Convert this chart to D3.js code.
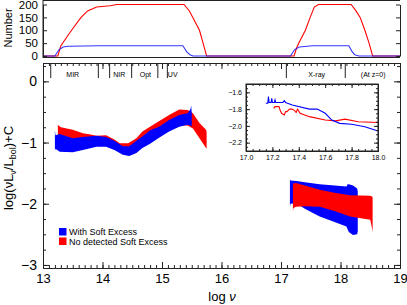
<!DOCTYPE html>
<html>
<head>
  <meta charset="utf-8">
  <style>
    body { margin: 0; background: #fff; }
    svg { font-family: "Liberation Sans", Arial, sans-serif; }
    .ax path, .ax line { stroke: #222; }
  </style>
</head>
<body>
<svg width="407" height="305"></svg>
<script src="https://d3js.org/d3.v7.min.js"></script>
<script>

  // --- top panel: number of objects at each log nu
  var redCountNu = [13.0, 13.25, 13.3, 13.48, 13.64, 13.75, 13.9, 14.13, 14.24, 15.37, 15.46, 15.54, 15.63, 15.69, 15.75,
    17.22, 17.26, 17.31, 17.41, 17.49, 17.56, 17.63, 18.18, 18.26, 18.33, 18.41, 18.48, 18.54, 19.0]
  var redCount = [0, 0, 40, 100, 150, 175, 190, 195, 200, 200, 175, 140, 100, 50, 0,
    0, 30, 55, 100, 150, 190, 200, 200, 175, 150, 100, 50, 0, 0]
  var blueCountNu = [13.0, 13.2, 13.27, 13.34, 13.42, 13.95, 15.35, 15.42, 15.47, 15.52,
    17.16, 17.23, 17.31, 17.53, 18.14, 18.2, 18.24, 18.31, 19.0]
  var blueCount = [0, 0, 25, 35, 38, 40, 40, 15, 5, 0,
    0, 25, 35, 40, 40, 15, 5, 0, 0]

  // --- main panel: SED envelopes (log nu, upper, lower)
  var blueIrNu = [13.2, 13.21, 13.28, 13.5, 13.67, 13.9, 14.06, 14.2, 14.34, 14.45, 14.57, 14.67, 14.8, 14.95, 15.12, 15.29, 15.43, 15.48, 15.49, 15.5]
  var blueIrHi = [-0.80, -0.88, -0.86, -0.93, -0.91, -0.89, -0.91, -0.97, -1.06, -1.06, -0.97, -0.90, -0.80, -0.74, -0.63, -0.55, -0.52, -0.45, -0.39, -0.52]
  var blueIrLo = [-1.14, -1.10, -1.15, -1.16, -1.12, -1.07, -1.07, -1.12, -1.20, -1.22, -1.17, -1.09, -1.02, -0.92, -0.82, -0.74, -0.71, -0.72, -0.74, -0.72]

  var redIrNu = [13.25, 13.26, 13.3, 13.5, 13.67, 13.8, 13.9, 14.06, 14.2, 14.29, 14.43, 14.57, 14.67, 14.9, 15.12, 15.29, 15.43, 15.52, 15.63, 15.74, 15.75]
  var redIrHi = [-0.70, -0.72, -0.75, -0.79, -0.85, -0.87, -0.89, -0.88, -0.95, -1.01, -1.01, -0.93, -0.82, -0.68, -0.55, -0.46, -0.47, -0.52, -0.68, -0.79, -0.83]
  var redIrLo = [-1.05, -1.02, -1.08, -1.10, -1.08, -1.04, -1.02, -1.03, -1.10, -1.15, -1.18, -1.14, -1.06, -0.93, -0.80, -0.72, -0.72, -0.77, -0.93, -1.09, -1.10]

  var blueXNu = [17.15, 17.16, 17.26, 17.4, 17.65, 17.9, 18.1, 18.12, 18.14, 18.21, 18.28, 18.29]
  var blueXHi = [-1.60, -1.62, -1.63, -1.65, -1.68, -1.70, -1.72, -1.68, -1.68, -1.70, -1.75, -1.80]
  var blueXLo = [-2.05, -2.00, -1.99, -2.08, -2.21, -2.30, -2.37, -2.42, -2.46, -2.51, -2.50, -2.45]

  var redXNu = [17.2, 17.21, 17.25, 17.4, 17.65, 17.9, 18.16, 18.5, 18.53, 18.54]
  var redXHi = [-1.67, -1.67, -1.66, -1.70, -1.77, -1.82, -1.86, -1.87, -1.88, -1.90]
  var redXLo = [-2.12, -2.07, -2.05, -2.04, -2.05, -2.12, -2.21, -2.26, -2.40, -2.46]

  // --- inset: mean X-ray SEDs
  var insetBlueNu = [17.15, 17.165, 17.17, 17.175, 17.19, 17.195, 17.2, 17.215, 17.22, 17.225, 17.28, 17.29, 17.3, 17.35, 17.48, 17.54, 17.6, 17.65, 17.71, 17.8, 17.9, 18.0]
  var insetBlue = [-1.73, -1.73, -1.65, -1.72, -1.72, -1.67, -1.72, -1.72, -1.69, -1.72, -1.72, -1.70, -1.72, -1.75, -1.80, -1.80, -1.85, -1.93, -1.97, -1.98, -2.01, -2.06]
  var insetRedNu = [17.21, 17.22, 17.25, 17.26, 17.27, 17.29, 17.3, 17.31, 17.33, 17.35, 17.37, 17.38, 17.39, 17.41, 17.48, 17.6, 17.68, 17.75, 17.85, 18.0]
  var insetRed = [-1.79, -1.77, -1.77, -1.82, -1.85, -1.87, -1.83, -1.83, -1.80, -1.80, -1.82, -1.84, -1.80, -1.85, -1.89, -1.93, -1.94, -1.92, -1.95, -1.96]

  // --- wavebands along the top of the main panel
  var bandEdges = [13.13, 13.93, 14.12, 14.49, 14.93, 15.09, 17.09, 18.08]
  var bandLabelNu = [13.5, 14.28, 14.72, 15.18, 17.6, 18.55]
  var bandLabels = ['MIR', 'NIR', 'Opt', 'UV', 'X-ray', '(At z=0)']

  var legendLabels = ['With Soft Excess', 'No detected Soft Excess']
  var legendColors = ['#0000ff', '#ff0000']

  var svg = d3.select('svg')

  function range(a, b, s) {
    var out = []
    for (var v = a; v <= b + s / 2; v += s) out.push(+v.toFixed(4))
    return out
  }

  var x = d3.scaleLinear().domain([13, 19]).range([43, 400])
  var yTop = d3.scaleLinear().domain([0, 200]).range([56, 4.5])
  var y = d3.scaleLinear().domain([-3.05, 0.3]).range([268, 63])

  function zip(a, b) {
    return a.map(function (d, i) { return [d, b[i]] })
  }

  // ---------- top panel ----------
  var topG = svg.append('g')
  var cntLine = d3.line().x(function (d) { return x(d[0]) }).y(function (d) { return yTop(d[1]) })

  topG.append('path').datum(zip(redCountNu, redCount))
    .attr('fill', 'none').attr('stroke', '#ff0000').attr('stroke-width', 1.1).attr('d', cntLine)
  topG.append('path').datum(zip(blueCountNu, blueCount))
    .attr('fill', 'none').attr('stroke', '#0000ff').attr('stroke-opacity', 0.8).attr('stroke-width', 1.1).attr('d', cntLine)

  topG.append('g').attr('class', 'ax').attr('transform', 'translate(43,0)')
    .call(d3.axisLeft(yTop).tickValues([0, 50, 100, 150, 200]).tickSizeInner(-4).tickSizeOuter(0).tickPadding(5).tickFormat(d3.format('d')))
    .attr('font-size', 11.5).attr('font-family', null)
  topG.append('g').attr('class', 'ax').attr('transform', 'translate(400,0)')
    .call(d3.axisRight(yTop).tickValues([0, 50, 100, 150, 200]).tickSizeInner(-4).tickSizeOuter(0).tickFormat(''))
  topG.append('line').attr('x1', 43).attr('x2', 400).attr('y1', 57.5).attr('y2', 57.5).attr('stroke', '#222')
  topG.append('line').attr('x1', 43).attr('x2', 400).attr('y1', 0.5).attr('y2', 0.5).attr('stroke', '#222')
  topG.append('line').attr('x1', 43).attr('x2', 43).attr('y1', 0).attr('y2', 58).attr('stroke', '#222')

  topG.append('text').attr('transform', 'translate(12,28) rotate(-90)')
    .attr('text-anchor', 'middle').attr('font-size', 11).text('Number')

  // ---------- main panel ----------
  var main = svg.append('g')
  var band = d3.area()
    .x(function (d) { return x(d[0]) })
    .y0(function (d) { return y(d[2]) })
    .y1(function (d) { return y(d[1]) })

  function env(nu, hi, lo) {
    return nu.map(function (d, i) { return [d, hi[i], lo[i]] })
  }

  main.append('path').datum(env(redIrNu, redIrHi, redIrLo)).attr('fill', '#ff0000').attr('d', band)
  main.append('path').datum(env(blueIrNu, blueIrHi, blueIrLo)).attr('fill', '#0000ff').attr('d', band)
  main.append('path').datum(env(blueXNu, blueXHi, blueXLo)).attr('fill', '#0000ff').attr('d', band)
  main.append('path').datum(env(redXNu, redXHi, redXLo)).attr('fill', '#ff0000').attr('d', band)

  // axes
  var majX = range(13, 19, 1), minX = range(13, 19, 0.1)
  var majY = [0, -1, -2, -3], minY = range(-3, 0.25, 0.25)

  main.append('g').attr('class', 'ax').attr('transform', 'translate(0,268)')
    .call(d3.axisBottom(x).tickValues(minX).tickSizeInner(-3).tickSizeOuter(0).tickFormat(''))
  main.append('g').attr('class', 'ax').attr('transform', 'translate(0,268)')
    .call(d3.axisBottom(x).tickValues(majX).tickSizeInner(-6).tickSizeOuter(0).tickPadding(6).tickFormat(d3.format('d')))
    .attr('font-size', 13).attr('font-family', null)
  main.append('g').attr('class', 'ax').attr('transform', 'translate(0,63)')
    .call(d3.axisTop(x).tickValues(minX).tickSizeInner(-3).tickSizeOuter(0).tickFormat(''))
  main.append('g').attr('class', 'ax').attr('transform', 'translate(0,63)')
    .call(d3.axisTop(x).tickValues(majX).tickSizeInner(-6).tickSizeOuter(0).tickFormat(''))

  main.append('g').attr('class', 'ax').attr('transform', 'translate(43,0)')
    .call(d3.axisLeft(y).tickValues(minY).tickSizeInner(-3).tickSizeOuter(0).tickFormat(''))
  main.append('g').attr('class', 'ax').attr('transform', 'translate(43,0)')
    .call(d3.axisLeft(y).tickValues(majY).tickSizeInner(-6).tickSizeOuter(0).tickPadding(6).tickFormat(d3.format('d')))
    .attr('font-size', 14).attr('font-family', null)
  main.append('g').attr('class', 'ax').attr('transform', 'translate(400,0)')
    .call(d3.axisRight(y).tickValues(minY).tickSizeInner(-3).tickSizeOuter(0).tickFormat(''))
  main.append('g').attr('class', 'ax').attr('transform', 'translate(400,0)')
    .call(d3.axisRight(y).tickValues(majY).tickSizeInner(-6).tickSizeOuter(0).tickFormat(''))

  // waveband markers
  main.selectAll('.edge').data(bandEdges).enter().append('line')
    .attr('x1', function (d) { return x(d) }).attr('x2', function (d) { return x(d) })
    .attr('y1', 63).attr('y2', 78).attr('stroke', '#222').attr('stroke-width', 1)
  main.selectAll('.blab').data(bandLabels).enter().append('text')
    .attr('x', function (d, i) { return x(bandLabelNu[i]) }).attr('y', 77)
    .attr('text-anchor', 'middle').attr('font-size', 7).text(function (d) { return d })

  // axis titles
  var yl = svg.append('text').attr('transform', 'translate(13,168) rotate(-90)')
    .attr('text-anchor', 'middle').attr('font-size', 13)
  yl.append('tspan').text('log(\u03bdL')
  yl.append('tspan').attr('font-size', 9).attr('dy', 3).text('\u03bd')
  yl.append('tspan').attr('dy', -3).text('/L')
  yl.append('tspan').attr('font-size', 9).attr('dy', 3).text('bol')
  yl.append('tspan').attr('dy', -3).text(')+C')

  var xl = svg.append('text').attr('x', 222).attr('y', 301).attr('text-anchor', 'middle').attr('font-size', 13)
  xl.append('tspan').text('log ')
  xl.append('tspan').attr('font-style', 'italic').text('\u03bd')

  // legend
  var leg = svg.append('g').attr('transform', 'translate(59,228)')
  leg.selectAll('rect').data(legendLabels).enter().append('rect')
    .attr('x', 0).attr('y', function (d, i) { return i * 9.5 })
    .attr('width', 7.5).attr('height', 7.5)
    .attr('fill', function (d, i) { return legendColors[i] })
  leg.selectAll('text').data(legendLabels).enter().append('text')
    .attr('x', 10).attr('y', function (d, i) { return i * 9.5 + 7 })
    .attr('font-size', 9).text(function (d) { return d })

  // ---------- inset ----------
  var ix = d3.scaleLinear().domain([17, 18]).range([246, 378])
  var iy = d3.scaleLinear().domain([-2.3, -1.5]).range([151, 84])
  var ins = svg.append('g')
  ins.append('rect').attr('x', 246).attr('y', 84).attr('width', 132).attr('height', 67)
    .attr('fill', '#fff').attr('stroke', '#222')

  var iLine = d3.line().x(function (d) { return ix(d[0]) }).y(function (d) { return iy(d[1]) })
  ins.append('path').datum(zip(insetRedNu, insetRed)).attr('fill', 'none').attr('stroke', '#ff0000').attr('stroke-width', 1.1).attr('d', iLine)
  ins.append('path').datum(zip(insetBlueNu, insetBlue)).attr('fill', 'none').attr('stroke', '#0000ff').attr('stroke-width', 1.1).attr('d', iLine)

  var iMajX = range(17, 18, 0.2), iMinX = range(17, 18, 0.05)
  var iMajY = [-2.2, -2.0, -1.8, -1.6], iMinY = range(-2.3, -1.5, 0.05)

  ins.append('g').attr('class', 'ax').attr('transform', 'translate(0,151)')
    .call(d3.axisBottom(ix).tickValues(iMinX).tickSizeInner(-2).tickSizeOuter(0).tickFormat(''))
  ins.append('g').attr('class', 'ax').attr('transform', 'translate(0,151)')
    .call(d3.axisBottom(ix).tickValues(iMajX).tickSizeInner(-4).tickSizeOuter(0).tickPadding(4).tickFormat(d3.format('.1f')))
    .attr('font-size', 7).attr('font-family', null)
  ins.append('g').attr('class', 'ax').attr('transform', 'translate(0,84)')
    .call(d3.axisTop(ix).tickValues(iMinX).tickSizeInner(-2).tickSizeOuter(0).tickFormat(''))
  ins.append('g').attr('class', 'ax').attr('transform', 'translate(0,84)')
    .call(d3.axisTop(ix).tickValues(iMajX).tickSizeInner(-4).tickSizeOuter(0).tickFormat(''))
  ins.append('g').attr('class', 'ax').attr('transform', 'translate(246,0)')
    .call(d3.axisLeft(iy).tickValues(iMinY).tickSizeInner(-2).tickSizeOuter(0).tickFormat(''))
  ins.append('g').attr('class', 'ax').attr('transform', 'translate(246,0)')
    .call(d3.axisLeft(iy).tickValues(iMajY).tickSizeInner(-4).tickSizeOuter(0).tickPadding(4).tickFormat(d3.format('.1f')))
    .attr('font-size', 7).attr('font-family', null)
  ins.append('g').attr('class', 'ax').attr('transform', 'translate(378,0)')
    .call(d3.axisRight(iy).tickValues(iMinY).tickSizeInner(-2).tickSizeOuter(0).tickFormat(''))
  ins.append('g').attr('class', 'ax').attr('transform', 'translate(378,0)')
    .call(d3.axisRight(iy).tickValues(iMajY).tickSizeInner(-4).tickSizeOuter(0).tickFormat(''))

</script>
</body>
</html>
